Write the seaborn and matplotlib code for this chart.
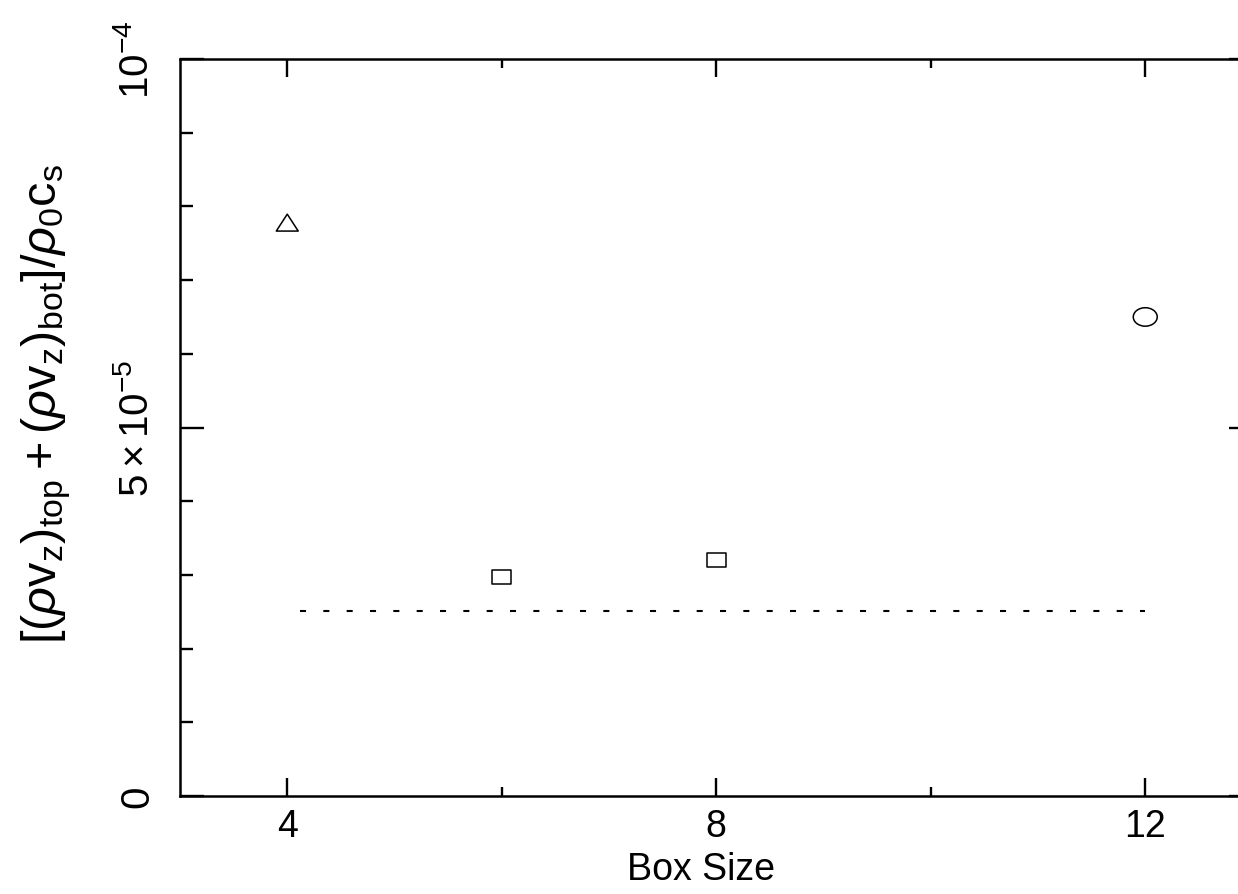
import matplotlib
matplotlib.use('Agg')
import matplotlib.pyplot as plt
from matplotlib.markers import MarkerStyle
from matplotlib.transforms import Affine2D
from matplotlib.ticker import FixedLocator, MultipleLocator
import seaborn as sns
import pandas as pd

# data
box_size = [4, 6, 8, 12]
flux = [7.78e-5, 2.97e-5, 3.20e-5, 6.50e-5]
symbol = ['triangle', 'square', 'square', 'circle']

# dotted reference level
ref_x = [4.12, 12.0]
ref_y = [2.51e-5, 2.51e-5]

x_ticks = [4, 8, 12]
x_minor = [6, 10]
y_ticks = [0, 5e-5, 1e-4]
y_labels = ['0', r'$5\times10^{-5}$', r'$10^{-4}$']

sns.set_style('ticks', {'text.color': 'black', 'xtick.color': 'black',
                        'ytick.color': 'black', 'axes.labelcolor': 'black',
                        'axes.edgecolor': 'black'})
plt.rcParams['font.family'] = ['Liberation Sans', 'DejaVu Sans']
plt.rcParams['mathtext.fontset'] = 'custom'
plt.rcParams['mathtext.rm'] = 'Liberation Sans'
plt.rcParams['mathtext.it'] = 'Liberation Sans:italic'
plt.rcParams['mathtext.bf'] = 'Liberation Sans:bold'


def squashed(m, k=0.77):
    # the reference markers are a bit flatter than wide
    ms = MarkerStyle(m)
    p = ms.get_path().transformed(ms.get_transform())
    return Affine2D().scale(1, k).transform_path(p)


df = pd.DataFrame({'box': box_size, 'flux': flux, 'symbol': symbol})

fig = plt.figure(figsize=(12.38, 8.95), dpi=100)
ax = fig.add_axes([180 / 1238, 98 / 895, 1072.5 / 1238, 737 / 895])

sns.lineplot(x=ref_x, y=ref_y, color='black', lw=1.5,
             linestyle=(0, (2.9, 8.3)), ax=ax)
sns.scatterplot(data=df, x='box', y='flux',
                style='symbol',
                markers={'triangle': squashed('^'), 'square': squashed('s'),
                         'circle': squashed('o')},
                size='symbol',
                sizes={'triangle': 250, 'square': 187, 'circle': 298},
                facecolor='none', edgecolor='black', linewidth=1.1,
                legend=False, ax=ax, zorder=3)

ax.set_xlim(3, 13)
ax.set_ylim(0, 1e-4)

ax.xaxis.set_major_locator(FixedLocator(x_ticks))
ax.xaxis.set_minor_locator(FixedLocator(x_minor))
ax.set_xticklabels([str(t) for t in x_ticks])
ax.yaxis.set_major_locator(FixedLocator(y_ticks))
ax.yaxis.set_minor_locator(MultipleLocator(1e-5))
ax.set_yticklabels(y_labels, rotation=90, va='center')

ax.tick_params(which='both', direction='in', top=True, right=True,
               width=1.7, color='black', labelcolor='black')
ax.tick_params(axis='x', which='major', length=13, pad=8.5, labelsize=27)
ax.tick_params(axis='x', which='minor', length=6.5)
ax.tick_params(axis='y', which='major', length=17, pad=17, labelsize=29)
ax.tick_params(axis='y', which='minor', length=9)

for sp in ax.spines.values():
    sp.set_linewidth(1.8)
    sp.set_color('black')

ax.set_xlabel('Box Size', fontsize=27, color='black')
ax.xaxis.set_label_coords(0.486, -0.0746)
ax.set_ylabel('')
fig.text(46 / 1238, 1 - 404 / 895,
         r'$[(\rho\mathrm{v_z})_{\mathrm{top}}+(\rho\mathrm{v_z})_{\mathrm{bot}}]/\rho_0\mathrm{c_s}$',
         rotation=90, ha='center', va='center', fontsize=35, color='black')

fig.savefig('out.png', dpi=100)
